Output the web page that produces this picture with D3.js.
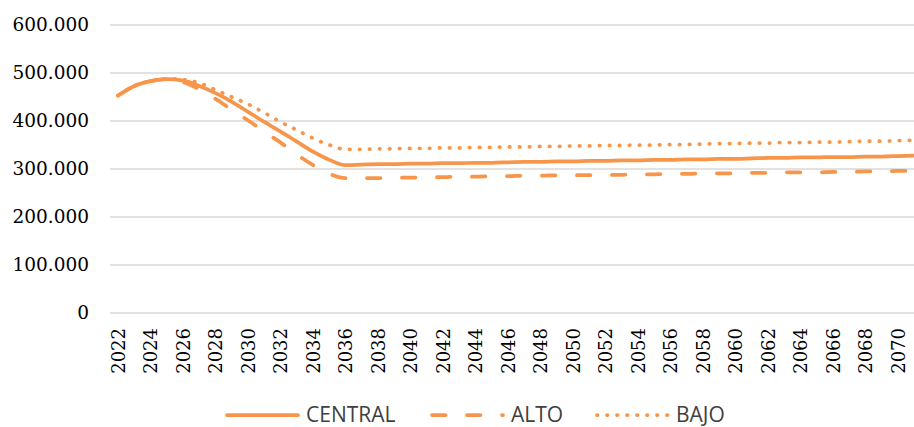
<!DOCTYPE html>
<html>
<head>
<meta charset="utf-8">
<script src="https://cdn.jsdelivr.net/npm/d3@7"></script>
<style>
  body { margin: 0; background: #fff; }
  svg { display: block; }
</style>
</head>
<body>
<svg id="chart" width="914" height="427"></svg>
<script>
// years on the category axis
const years = d3.range(2022, 2072);

// values in thousands
const central = [453, 473, 483, 487, 484, 473, 458, 440, 419, 398, 378, 357, 336, 319, 308,
  309, 310, 310, 311, 311, 312, 312, 313, 313, 314, 315, 315, 316, 316, 317, 317, 318, 318, 319, 319,
  320, 320, 321, 321, 322, 323, 323, 324, 324, 325, 325, 326, 326, 327, 328];
const alto = [453, 473, 483, 487, 481, 466, 446, 423, 401, 378, 355, 330, 308, 290, 281,
  281, 281, 282, 282, 283, 283, 284, 284, 285, 285, 286, 286, 287, 287, 287, 288, 288, 289, 289, 290,
  290, 291, 291, 291, 292, 292, 293, 293, 293, 294, 294, 295, 295, 296, 296];
const bajo = [453, 473, 483, 488, 486, 479, 465, 450, 435, 417, 398, 381, 364, 350, 341,
  341, 342, 342, 343, 343, 344, 344, 345, 345, 346, 346, 347, 347, 348, 348, 349, 349, 350, 350, 351,
  351, 352, 353, 353, 354, 354, 355, 355, 356, 356, 357, 358, 358, 359, 360];

const yTicks = [0, 100, 200, 300, 400, 500, 600];
const seriesNames = ['CENTRAL', 'ALTO', 'BAJO'];

const orange = '#f7964a';
const dashes = [null, '13.5,21.5', '0.5,9.5']; // solid, dashed, dotted

const svg = d3.select('#chart');

const x = d3.scaleBand().domain(years).range([110, 922.5]).padding(0);
const y = d3.scaleLinear().domain([0, 600]).range([313, 25]);
const cx = d => x(d) + x.bandwidth() / 2;

// horizontal gridlines
svg.append('g')
  .selectAll('line')
  .data(yTicks)
  .enter()
  .append('line')
  .attr('x1', 110)
  .attr('x2', 914)
  .attr('y1', d => y(d))
  .attr('y2', d => y(d))
  .attr('stroke', '#d9d9d9')
  .attr('stroke-width', 1.3);

// y labels
svg.append('g')
  .selectAll('text')
  .data(yTicks)
  .enter()
  .append('text')
  .attr('x', 89)
  .attr('y', d => y(d))
  .attr('dy', '0.35em')
  .attr('text-anchor', 'end')
  .style('font-family', '"DejaVu Serif", serif')
  .style('font-size', '18.5px')
  .attr('fill', '#000')
  .text(d => d === 0 ? '0' : d + '.000');

// x labels, every second year
svg.append('g')
  .selectAll('text')
  .data(years.filter(d => d % 2 === 0))
  .enter()
  .append('text')
  .attr('transform', d => `translate(${cx(d)},328) rotate(-90)`)
  .attr('dy', '0.36em')
  .attr('text-anchor', 'end')
  .style('font-family', '"DejaVu Serif", serif')
  .style('font-size', '18px')
  .attr('fill', '#000')
  .text(d => d);

// the three series
const allSeries = [central, alto, bajo];
const line = d3.line()
  .x((d, i) => cx(years[i]))
  .y(d => y(d))
  .curve(d3.curveMonotoneX);

allSeries.forEach((values, i) => {
  const path = svg.append('path')
    .datum(values)
    .attr('d', line)
    .attr('fill', 'none')
    .attr('stroke', orange)
    .attr('stroke-width', 3.75)
    .attr('stroke-linecap', 'round')
    .attr('stroke-linejoin', 'round');
  if (dashes[i]) path.attr('stroke-dasharray', dashes[i]);
});

// legend
const legendX = [227, 432, 597];
const legend = svg.append('g');
seriesNames.forEach((name, i) => {
  const l = legend.append('line')
    .attr('x1', legendX[i])
    .attr('x2', legendX[i] + 71)
    .attr('y1', 415)
    .attr('y2', 415)
    .attr('stroke', orange)
    .attr('stroke-width', 3.75)
    .attr('stroke-linecap', 'round');
  if (dashes[i]) l.attr('stroke-dasharray', dashes[i]);
  legend.append('text')
    .attr('x', legendX[i] + 79)
    .attr('y', 421.5)
    .style('font-family', '"Open Sans", sans-serif')
    .style('font-size', '21px')
    .attr('fill', '#404040')
    .text(name);
});
</script>
</body>
</html>
